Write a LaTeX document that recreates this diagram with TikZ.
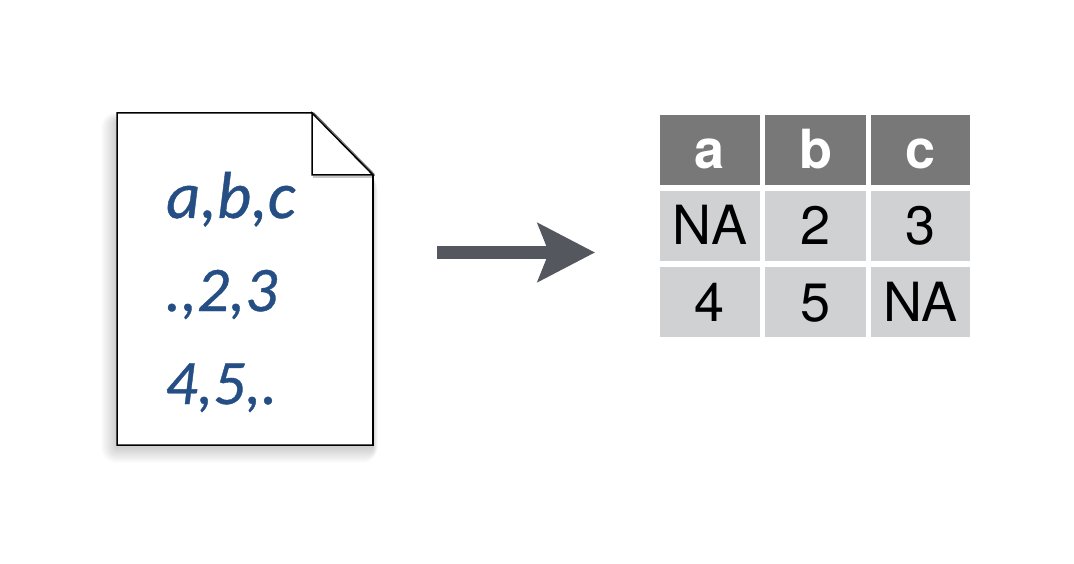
\documentclass[tikz,border=0pt]{standalone}
\usepackage{fontspec}
\setmainfont{TeX Gyre Heros}
\newfontfamily\docfont[FakeBold=0.6]{Carlito}
\usetikzlibrary{arrows.meta}
\definecolor{headgrey}{HTML}{787878}
\definecolor{cellgrey}{HTML}{D0D1D2}
\definecolor{docblue}{HTML}{254F84}
\definecolor{arrowgrey}{HTML}{54575E}
\tikzset{
  x=1pt,y=-1pt,
  headcell/.style={fill=headgrey,text=white,inner sep=0pt,minimum height=70pt,text height=38pt,text depth=0pt,font=\fontsize{54}{54}\selectfont\bfseries},
  bodycell/.style={fill=cellgrey,text=black,inner sep=0pt,minimum height=70pt,text height=38pt,text depth=0pt,font=\fontsize{54}{54}\selectfont},
  cola/.style={minimum width=100pt},
  colb/.style={minimum width=101pt},
  colc/.style={minimum width=99pt},
  doctext/.style={text=docblue,inner sep=0pt,anchor=base west,font=\docfont\itshape\fontsize{66.5}{66.5}\selectfont},
  docnums/.style={doctext,font=\docfont\itshape\fontsize{63.5}{63.5}\selectfont},
  bigarrow/.style={draw=arrowgrey,line width=13pt,-{Stealth[length=57pt,width=58pt,inset=11pt,fill=arrowgrey]}}
}
\begin{document}
\begin{tikzpicture}
\useasboundingbox (0,0) rectangle (1074,564);
% soft shadow of the sheet
\foreach \g in {1,...,16}{
  \fill[black,opacity=0.013,rounded corners=\g pt]
    (117-\g,122-\g*0.6) -- (312,122-\g*0.6) -- (373+\g*0.3,182-\g*0.3) -- (373+\g*0.3,447+\g) -- (117-\g,447+\g) -- cycle;
}
% sheet
\draw[black,line width=1.5pt,fill=white,line join=miter]
  (117,113) -- (312,113) -- (373,175) -- (373,445) -- (117,445) -- cycle;
\fill[black,opacity=0.22] (313,176) rectangle (373,178);
\draw[black,line width=1.5pt,fill=white,line join=miter]
  (312,113) -- (312,175) -- (373,175) -- cycle;
\draw[black!60,line width=1pt] (313.5,112.5) -- (374.5,174.5);
\draw[black,line width=1.5pt] (373,175) -- (373,445);
% file text
\node[doctext] (line1) at (166,218) {a,b,c};
\node[docnums] (line2) at (165,311) {.,2,3};
\node[docnums] (line3) at (165,404) {4,5,.};
% arrow
\coordinate (arrowstart) at (437,252.5);
\coordinate (arrowend) at (595,252.5);
\draw[bigarrow] (arrowstart) -- (arrowend);
% table
\node[headcell,cola] (a) at (710,150) {a};
\node[headcell,colb] (b) at (815.5,150) {b};
\node[headcell,colc] (c) at (920.5,150) {c};
\node[bodycell,cola] (r1a) at (710,226) {NA};
\node[bodycell,colb] (r1b) at (815.5,226) {2};
\node[bodycell,colc] (r1c) at (920.5,226) {3};
\node[bodycell,cola] (r2a) at (710,302) {4};
\node[bodycell,colb] (r2b) at (815.5,302) {5};
\node[bodycell,colc] (r2c) at (920.5,302) {NA};
\end{tikzpicture}
\end{document}
